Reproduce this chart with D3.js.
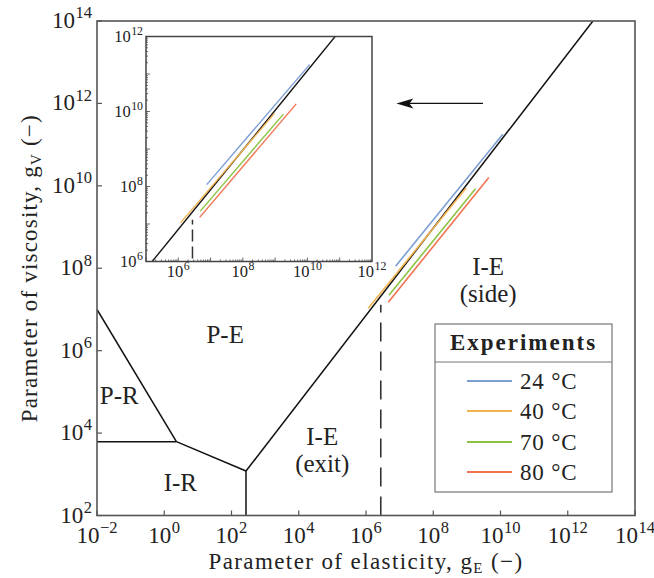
<!DOCTYPE html>
<html>
<head>
<meta charset="utf-8">
<script src="https://cdn.jsdelivr.net/npm/d3@7"></script>
<style>
  html, body { margin: 0; padding: 0; background: #fff; }
  svg { display: block; }
  text { font-family: "Liberation Serif", "DejaVu Serif", serif; fill: #222; }
</style>
</head>
<body>
<svg id="chart" width="654" height="578"></svg>
<script>
// ---------------- data ----------------
const mainXTickExps = [-2, 0, 2, 4, 6, 8, 10, 12, 14];
const mainYTickExps = [2, 4, 6, 8, 10, 12, 14];
const insetXTickExps = [6, 8, 10, 12];
const insetYTickExps = [6, 8, 10, 12];

// regime boundaries [gE, gV]
const boundaryPR_PE = [[1e-2, 1e7], [2.3, 6200]];
const boundaryPR_IR = [[1e-2, 6200], [2.3, 6200]];
const boundaryIR_PE = [[2.3, 6200], [270, 1200]];
const boundaryIR_IE = [[270, 1200], [270, 1e2]];
const boundaryPE_IE = [[270, 1200], [5.6e12, 1e14]];
const dashedExitSide = [[2.75e6, 1e2], [2.75e6, 1.3e7]];

// experiments
const expLabels = ["24 °C", "40 °C", "70 °C", "80 °C"];
const expColors = ["#7b9ed3", "#f2b24e", "#8cc343", "#f07352"];
const exp24 = [[7.6e6, 1.12e8], [1.17e10, 1.78e11]];
const exp40 = [[1.17e6, 1.07e7], [9.5e8, 8.9e9]];
const exp70 = [[4.8e6, 2.2e7], [1.8e9, 8.5e9]];
const exp80 = [[4.6e6, 1.5e7], [4.5e9, 1.6e10]];
const expSeries = [exp24, exp40, exp70, exp80];

const regionLabels = [
  {lines: ["P-E"], x: 65, y: 1.55e6},
  {lines: ["P-R"], x: 0.046, y: 5.1e4},
  {lines: ["I-R"], x: 3.0, y: 384},
  {lines: ["I-E", "(exit)"], x: 5e4, y: 5200},
  {lines: ["I-E", "(side)"], x: 4.3e9, y: 6.9e7}
];
const arrowPts = [[3e9, 1e12], [8e6, 1e12]];

// ---------------- layout ----------------
const svg = d3.select("#chart");
const M = {left: 97, right: 635, top: 21, bottom: 515.5};
const x = d3.scaleLog().domain([1e-2, 1e14]).range([M.left, M.right]);
const y = d3.scaleLog().domain([1e2, 1e14]).range([M.bottom, M.top]);

const I = {left: 146, right: 372, top: 36.5, bottom: 261.5};
const xi = d3.scaleLog().domain([1e5, 1e12]).range([I.left, I.right]);
const yi = d3.scaleLog().domain([1e6, 1e12]).range([I.bottom, I.top]);

const defs = svg.append("defs");
defs.append("clipPath").attr("id", "clipMain").append("rect")
  .attr("x", M.left).attr("y", M.top).attr("width", M.right - M.left).attr("height", M.bottom - M.top);
defs.append("clipPath").attr("id", "clipInset").append("rect")
  .attr("x", I.left).attr("y", I.top).attr("width", I.right - I.left).attr("height", I.bottom - I.top);

function supLabel(sel, exp, fs) {
  sel.append("tspan").text("10");
  sel.append("tspan").attr("dy", -0.42 * fs).attr("font-size", fs * 0.72)
    .attr("dx", 0.5)
    .text(exp < 0 ? "\u2212" + Math.abs(exp) : String(exp));
}

// ---------- main plot ----------
const gMain = svg.append("g");
const plotArea = gMain.append("g").attr("clip-path", "url(#clipMain)");

const lineMain = d3.line().x(d => x(d[0])).y(d => y(d[1]));
[boundaryPR_PE, boundaryPR_IR, boundaryIR_PE, boundaryIR_IE, boundaryPE_IE].forEach(b => {
  plotArea.append("path").attr("d", lineMain(b)).attr("fill", "none")
    .attr("stroke", "#111").attr("stroke-width", 1.5);
});
plotArea.append("path").attr("d", lineMain(dashedExitSide))
  .attr("fill", "none").attr("stroke", "#333").attr("stroke-width", 1.6)
  .attr("stroke-dasharray", "19,10");

expSeries.forEach((s, i) => {
  plotArea.append("path").attr("d", lineMain(s)).attr("fill", "none")
    .attr("stroke", expColors[i]).attr("stroke-width", 1.6);
});

// main axes frame
gMain.append("rect").attr("x", M.left).attr("y", M.top)
  .attr("width", M.right - M.left).attr("height", M.bottom - M.top)
  .attr("fill", "none").attr("stroke", "#555").attr("stroke-width", 1.6);

// main ticks
const FS = 23;
mainXTickExps.forEach(e => {
  const px = x(Math.pow(10, e));
  gMain.append("line").attr("x1", px).attr("x2", px).attr("y1", M.bottom).attr("y2", M.bottom - 5)
    .attr("stroke", "#555").attr("stroke-width", 1.2);
  const t = gMain.append("text").attr("x", px).attr("y", M.bottom + 27)
    .attr("font-size", FS).attr("text-anchor", "middle");
  supLabel(t, e, FS);
});
mainYTickExps.forEach(e => {
  const py = y(Math.pow(10, e));
  gMain.append("line").attr("x1", M.left).attr("x2", M.left + 5).attr("y1", py).attr("y2", py)
    .attr("stroke", "#555").attr("stroke-width", 1.2);
  const t = gMain.append("text").attr("x", M.left - 5).attr("y", py + 7)
    .attr("font-size", FS).attr("text-anchor", "end");
  supLabel(t, e, FS);
});

// axis titles
const xt = svg.append("text").attr("x", (M.left + M.right) / 2).attr("y", 569)
  .attr("font-size", 23).attr("letter-spacing", 1.4).attr("text-anchor", "middle");
xt.append("tspan").text("Parameter of elasticity, g");
xt.append("tspan").attr("dy", 4).attr("font-size", 15).text("E");
xt.append("tspan").attr("dy", -4).text(" (\u2212)");

const yt = svg.append("text").attr("transform", `translate(37, ${(M.top + M.bottom) / 2}) rotate(-90)`)
  .attr("font-size", 23).attr("letter-spacing", 1.2).attr("text-anchor", "middle");
yt.append("tspan").text("Parameter of viscosity, g");
yt.append("tspan").attr("dy", 4).attr("font-size", 15).text("V");
yt.append("tspan").attr("dy", -4).text(" (\u2212)");

// region labels
regionLabels.forEach(r => {
  r.lines.forEach((l, k) => {
    svg.append("text").attr("x", x(r.x)).attr("y", y(r.y) + k * 27)
      .attr("font-size", 25).attr("text-anchor", "middle").text(l);
  });
});

// arrow
const ax1 = x(arrowPts[0][0]), ax2 = x(arrowPts[1][0]), ay = y(arrowPts[0][1]);
svg.append("line").attr("x1", ax1).attr("x2", ax2 + 6).attr("y1", ay).attr("y2", ay)
  .attr("stroke", "#111").attr("stroke-width", 1.1);
svg.append("path")
  .attr("d", `M${ax2},${ay} L${ax2 + 17},${ay - 5} L${ax2 + 13},${ay} L${ax2 + 17},${ay + 5} Z`)
  .attr("fill", "#111");

// ---------- inset ----------
const gIn = svg.append("g");
gIn.append("rect").attr("x", I.left).attr("y", I.top)
  .attr("width", I.right - I.left).attr("height", I.bottom - I.top).attr("fill", "#fff");
const inArea = gIn.append("g").attr("clip-path", "url(#clipInset)");
const lineIn = d3.line().x(d => xi(d[0])).y(d => yi(d[1]));
inArea.append("path").attr("d", lineIn(boundaryPE_IE)).attr("fill", "none")
  .attr("stroke", "#111").attr("stroke-width", 1.4);
inArea.append("path").attr("d", lineIn(dashedExitSide)).attr("fill", "none")
  .attr("stroke", "#333").attr("stroke-width", 1.5).attr("stroke-dasharray", "12,5");
expSeries.forEach((s, i) => {
  inArea.append("path").attr("d", lineIn(s)).attr("fill", "none")
    .attr("stroke", expColors[i]).attr("stroke-width", 1.4);
});
gIn.append("rect").attr("x", I.left).attr("y", I.top)
  .attr("width", I.right - I.left).attr("height", I.bottom - I.top)
  .attr("fill", "none").attr("stroke", "#444").attr("stroke-width", 1.5);

// inset minor + major ticks
const FSi = 16.5;
for (let e = 5; e < 12; e++) {
  for (let m = 1; m < 10; m++) {
    const px = xi(m * Math.pow(10, e));
    const len = m === 1 ? 4 : 2;
    gIn.append("line").attr("x1", px).attr("x2", px).attr("y1", I.bottom).attr("y2", I.bottom - len)
      .attr("stroke", "#444").attr("stroke-width", 0.8);
  }
}
for (let e = 6; e < 12; e++) {
  for (let m = 1; m < 10; m++) {
    const py = yi(m * Math.pow(10, e));
    const len = m === 1 ? 4 : 2;
    gIn.append("line").attr("x1", I.left).attr("x2", I.left + len).attr("y1", py).attr("y2", py)
      .attr("stroke", "#444").attr("stroke-width", 0.8);
  }
}
insetXTickExps.forEach(e => {
  const t = gIn.append("text").attr("x", xi(Math.pow(10, e))).attr("y", I.bottom + 15)
    .attr("font-size", FSi).attr("text-anchor", "middle");
  supLabel(t, e, FSi);
});
insetYTickExps.forEach(e => {
  const t = gIn.append("text").attr("x", I.left - 3).attr("y", yi(Math.pow(10, e)) + 5)
    .attr("font-size", FSi).attr("text-anchor", "end");
  supLabel(t, e, FSi);
});

// ---------- legend ----------
const L = {x: 435, y: 324, w: 177, h: 168, sep: 362};
const gL = svg.append("g");
gL.append("rect").attr("x", L.x).attr("y", L.y).attr("width", L.w).attr("height", L.h)
  .attr("fill", "#fff").attr("stroke", "#777").attr("stroke-width", 1.2);
gL.append("line").attr("x1", L.x).attr("x2", L.x + L.w).attr("y1", L.sep).attr("y2", L.sep)
  .attr("stroke", "#777").attr("stroke-width", 1.2);
gL.append("text").attr("x", L.x + L.w / 2).attr("y", 350).attr("font-size", 23)
  .attr("font-weight", "bold").attr("letter-spacing", 2).attr("text-anchor", "middle").text("Experiments");
const rowY = [381, 411, 442, 472];
expLabels.forEach((lab, i) => {
  gL.append("line").attr("x1", 467).attr("x2", 512).attr("y1", rowY[i]).attr("y2", rowY[i])
    .attr("stroke", expColors[i]).attr("stroke-width", 1.8);
  gL.append("text").attr("x", 520).attr("y", rowY[i] + 8).attr("font-size", 23)
    .attr("letter-spacing", 0.8).text(lab);
});
</script>
</body>
</html>
